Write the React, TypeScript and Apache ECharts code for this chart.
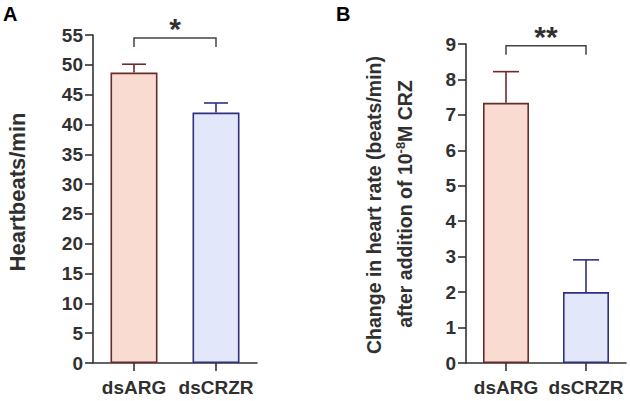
import React, { useEffect, useRef } from "react";
import * as echarts from "echarts";

const categories = ["dsARG", "dsCRZR"];
const heartbeatMean = [48.7, 42.0];
const heartbeatErr = [1.4, 1.6];
const changeMean = [7.34, 2.0];
const changeErr = [0.88, 0.91];
const sigA = { label: "*", level: 54.5, drop: 53.0 };
const sigB = { label: "**", level: 8.95, drop: 8.7 };

const fills = ["#F9DBD1", "#E3E7FA"];
const borders = ["#6A2B2B", "#2D3180"];
const axisColor = "#333333";
const textColor = "#303030";
const FONT = "Liberation Sans, Arial, sans-serif";

function errSeries(idx: number, means: number[], errs: number[], cap: number) {
  return {
    type: "custom",
    xAxisIndex: idx,
    yAxisIndex: idx,
    z: 1,
    data: means.map((m, i) => [i, m, m + errs[i]]),
    encode: { x: 0, y: [1, 2] },
    renderItem: (params: any, api: any) => {
      const i = api.value(0);
      const p0 = api.coord([i, api.value(1)]);
      const p1 = api.coord([i, api.value(2)]);
      const c = borders[i];
      return {
        type: "group",
        children: [
          { type: "line", shape: { x1: p0[0], y1: p0[1], x2: p1[0], y2: p1[1] }, style: { stroke: c, lineWidth: 1.6 } },
          { type: "line", shape: { x1: p1[0] - cap / 2, y1: p1[1], x2: p1[0] + cap / 2, y2: p1[1] }, style: { stroke: c, lineWidth: 1.6 } },
        ],
      };
    },
  };
}

function sigSeries(idx: number, sig: { label: string; level: number; drop: number }) {
  return {
    type: "custom",
    xAxisIndex: idx,
    yAxisIndex: idx,
    z: 5,
    data: [[0, 1, sig.level, sig.drop]],
    encode: { x: [0, 1], y: [2, 3] },
    renderItem: (params: any, api: any) => {
      const a = api.coord([api.value(0), api.value(2)]);
      const b = api.coord([api.value(1), api.value(2)]);
      const ad = api.coord([api.value(0), api.value(3)]);
      const bd = api.coord([api.value(1), api.value(3)]);
      return {
        type: "group",
        children: [
          {
            type: "polyline",
            shape: { points: [[ad[0], ad[1]], [a[0], a[1]], [b[0], b[1]], [bd[0], bd[1]]] },
            style: { stroke: "#444444", lineWidth: 1.5, fill: null },
          },
          {
            type: "text",
            x: (a[0] + b[0]) / 2,
            y: a[1] - 24,
            style: {
              text: sig.label,
              fontSize: 30,
              fontWeight: "bold",
              fontFamily: FONT,
              fill: textColor,
              align: "center",
              verticalAlign: "top",
            },
          },
        ],
      };
    },
  };
}

function barSeries(idx: number, means: number[], width: number) {
  return {
    type: "bar",
    xAxisIndex: idx,
    yAxisIndex: idx,
    barWidth: width,
    z: 2,
    data: means.map((v, i) => ({
      value: v,
      itemStyle: { color: fills[i], borderColor: borders[i], borderWidth: 1.6 },
    })),
  };
}

const axisLabelStyle = { color: textColor, fontSize: 19, fontWeight: "bold", fontFamily: FONT };

function xAxis(idx: number) {
  return {
    type: "category",
    gridIndex: idx,
    data: categories,
    axisLine: { show: true, lineStyle: { color: axisColor, width: 1.6 } },
    axisTick: { show: true, alignWithLabel: true, length: 8, lineStyle: { color: axisColor, width: 1.6 } },
    axisLabel: { ...axisLabelStyle, margin: 15, interval: 0 },
    splitLine: { show: false },
  };
}

function yAxis(idx: number, max: number, interval: number) {
  return {
    type: "value",
    gridIndex: idx,
    min: 0,
    max,
    interval,
    axisLine: { show: true, lineStyle: { color: axisColor, width: 1.6 } },
    axisTick: { show: true, length: 8, lineStyle: { color: axisColor, width: 1.6 } },
    axisLabel: { ...axisLabelStyle, margin: 10 },
    splitLine: { show: false },
  };
}

export default function App() {
  const ref = useRef<HTMLDivElement>(null);
  useEffect(() => {
    if (!ref.current) return;
    const chart = echarts.init(ref.current, null, { renderer: "svg" });
    chart.setOption({
      animation: false,
      backgroundColor: "#ffffff",
      grid: [
        { left: 93, top: 35, width: 164, height: 328 },
        { left: 466, top: 44, width: 160, height: 319 },
      ],
      xAxis: [xAxis(0), xAxis(1)],
      yAxis: [yAxis(0, 55, 5), yAxis(1, 9, 1)],
      series: [
        barSeries(0, heartbeatMean, 47),
        errSeries(0, heartbeatMean, heartbeatErr, 24),
        sigSeries(0, sigA),
        barSeries(1, changeMean, 46),
        errSeries(1, changeMean, changeErr, 26),
        sigSeries(1, sigB),
      ],
      graphic: [
        { type: "text", left: 3, top: 4, style: { text: "A", fontSize: 20, fontWeight: "bold", fontFamily: FONT, fill: "#000" } },
        { type: "text", left: 336, top: 4, style: { text: "B", fontSize: 20, fontWeight: "bold", fontFamily: FONT, fill: "#000" } },
        {
          type: "text",
          x: 17,
          y: 192,
          rotation: Math.PI / 2,
          style: {
            text: "Heartbeats/min",
            fontSize: 22,
            fontWeight: "bold",
            fontFamily: FONT,
            fill: textColor,
            align: "center",
            verticalAlign: "middle",
          },
        },
        {
          type: "text",
          x: 374,
          y: 205,
          rotation: Math.PI / 2,
          style: {
            text: "Change in heart rate (beats/min)",
            fontSize: 19.5,
            fontWeight: "bold",
            fontFamily: FONT,
            fill: textColor,
            align: "center",
            verticalAlign: "middle",
          },
        },
        {
          type: "text",
          x: 405,
          y: 204,
          rotation: Math.PI / 2,
          style: {
            text: "after addition of 10{sup|-8}M CRZ",
            fontSize: 19.5,
            fontWeight: "bold",
            fontFamily: FONT,
            fill: textColor,
            align: "center",
            verticalAlign: "middle",
            rich: {
              sup: { fontSize: 13, fontWeight: "bold", fontFamily: FONT, fill: textColor, verticalAlign: "top", lineHeight: 22 },
            },
          },
        },
      ],
    });
    return () => chart.dispose();
  }, []);
  return <div ref={ref} style={{ position: "fixed", left: 0, top: 0, width: 630, height: 401 }} />;
}
